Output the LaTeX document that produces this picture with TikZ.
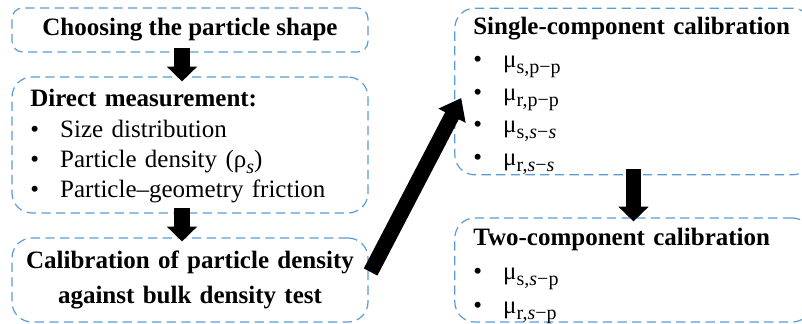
\documentclass[tikz,border=0pt]{standalone}
\usepackage{fontspec}
\setmainfont{Liberation Serif}
\usetikzlibrary{arrows.meta,calc}
\definecolor{boxblue}{RGB}{91,155,213}
\newcommand{\itembullet}{\makebox[22.5pt][l]{\textbullet}}
\newcommand{\lowsub}[1]{\raisebox{-4.5pt}{\fontsize{15}{15}\selectfont #1}}

\begin{document}
\begin{tikzpicture}[
    x=0.75pt, y=-0.75pt,
    box/.style={draw=boxblue, dash pattern=on 7pt off 4pt, line width=0.9pt,
        rounded corners=15pt, inner sep=0pt},
    list/.style={anchor=base west, align=left, inner sep=0pt, text width=250pt},
    title/.style={align=center, font=\fontsize{18.75}{26.25}\selectfont\bfseries},
    flow/.style={line width=11.5pt, -{Triangle[width=22pt, length=11pt]}}
]
\useasboundingbox (0,0) rectangle (802,324);

% boxes
\node[box, title, rounded corners=8pt, minimum width=267pt, minimum height=33pt] (shape) at (190,30) {Choosing the particle shape};
\node[box, minimum width=267pt, minimum height=102pt] (direct) at (190,145) {};
\node[box, title, minimum width=267pt, minimum height=63pt, text width=262pt] (calib) at (190,280)
    {Calibration of particle density\\ against bulk density test};
\node[box, minimum width=268pt, minimum height=125pt] (single) at (633.5,91.5) {};
\node[box, minimum width=268pt, minimum height=78pt] (two) at (633.5,270) {};

% box contents
\node[list, font=\fontsize{18.75}{22.75}\selectfont] (directtext) at (30,107)
    {\textbf{Direct measurement:}\\
     \itembullet Size distribution\\
     \itembullet Particle density (ρ\lowsub{\textit{s}})\\
     \itembullet Particle–geometry friction};
\node[list, font=\fontsize{18.75}{24.4}\selectfont] (singletext) at (473,35)
    {\textbf{Single-component calibration}\\
     \itembullet μ\lowsub{s,p−p}\\
     \itembullet μ\lowsub{r,p−p}\\
     \itembullet μ\lowsub{s,\textit{s}−\textit{s}}\\
     \itembullet μ\lowsub{r,\textit{s}−\textit{s}}};
\node[list, font=\fontsize{18.75}{25.5}\selectfont] (twotext) at (473,245)
    {\textbf{Two-component calibration}\\
     \itembullet μ\lowsub{s,\textit{s}−p}\\
     \itembullet μ\lowsub{r,\textit{s}−p}};

% arrows
\draw[flow, shorten <=-3.75pt, shorten >=-3.75pt] ([xshift=-6pt]shape.south) -- ([xshift=-6pt]direct.north);
\draw[flow, shorten <=-4.5pt, shorten >=-3pt] ([xshift=-6pt]direct.south) -- ([xshift=-6pt]calib.north);
\draw[flow, shorten <=-4.5pt, shorten >=-3pt] (single.south) -- (two.north);
\draw[flow, -{Triangle[width=22pt, length=15pt]}] ($(calib.east)+(2,-8)$) -- ($(single.west)+(7,6.5)$);

\end{tikzpicture}
\end{document}
